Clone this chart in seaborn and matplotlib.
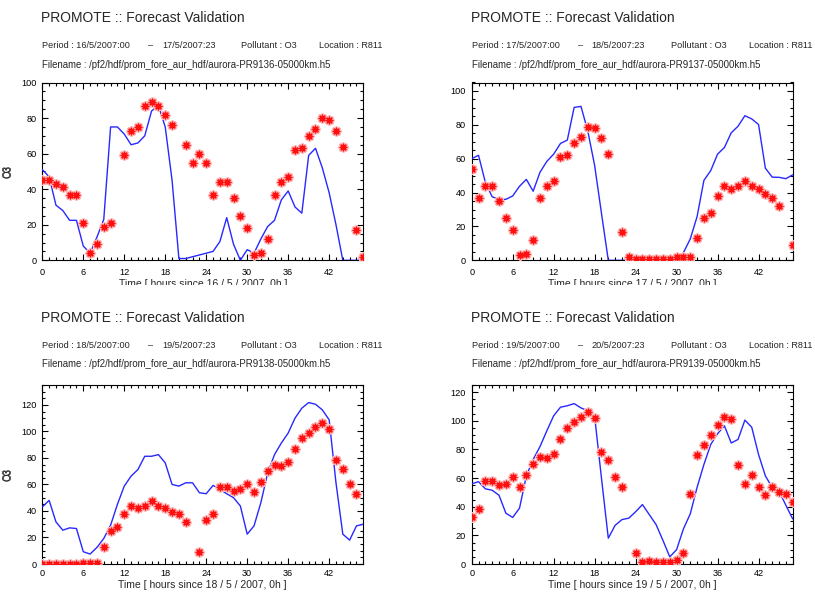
import numpy as np
import pandas as pd
import matplotlib
matplotlib.use("Agg")
import matplotlib.pyplot as plt
import seaborn as sns
from matplotlib.ticker import MultipleLocator
from matplotlib.patches import Rectangle

nan = np.nan
hours = list(range(48))

period_start = ["16/5/2007:00", "17/5/2007:00", "18/5/2007:00", "19/5/2007:00"]
period_end = ["17/5/2007:23", "18/5/2007:23", "19/5/2007:23", "20/5/2007:23"]
base_dates = ["16 / 5 / 2007", "17 / 5 / 2007", "18 / 5 / 2007", "19 / 5 / 2007"]
run_ids = ["PR9136", "PR9137", "PR9138", "PR9139"]
pollutant = "O3"
location = "R811"
y_top = [100, 105, 135, 125]

# observed O3 (asterisks); NaN where no measurement
obs_16 = [45, 45, 43, 41, 37, 37, 21, 4, 9, 19, 21, nan, 59, 73, 75, 87, 89, 87, 82, 76,
          nan, 65, 55, 60, 55, 37, 44, 44, 35, 25, 18, 3, 4, 12, 37, 44, 47, 62, 63, 70,
          74, 80, 79, 73, 64, nan, 17, 2]
obs_17 = [54, 37, 44, 44, 35, 25, 18, 3, 4, 12, 37, 44, 47, 61, 62, 69, 73, 79, 78, 72,
          63, nan, 17, 2, 1, 1, 1, 1, 1, 1, 2, 2, 2, 13, 25, 28, 38, 44, 42, 44,
          47, 44, 42, 39, 37, 32, nan, 9]
obs_18 = [0, 0, 0, 0, 0, 0, 1, 1, 1, 13, 25, 28, 38, 44, 42.5, 44, 47.5, 44, 42.5, 39,
          37.5, 32, nan, 9, 33, 38, 58, 58, 55, 56.5, 60, 54, 62, 70, 75, 74, 77, 87, 95, 99,
          103, 106, 102, 78.5, 72, 60, 53, nan]
obs_19 = [33, 38.5, 58, 58, 55, 56, 60.5, 54, 62, 70, 75, 74, 77, 87, 95, 99, 103, 106, 102, 78.5,
          72.5, 60.5, 53.5, nan, 7.5, 1.5, 2, 1.5, 1.5, 1.5, 2.5, 7.5, 49, 76, 83, 90, 97, 103, 101, 69,
          56, 62, 54, 48, 53.5, 50.5, 49, 43.5]

# forecast O3 (solid line)
fc_16 = [51, 47, 31, 28, 22.5, 22.5, 8, 4, 13, 23, 75, 75, 71, 65, 66, 70, 84, 87, 75, 45,
         1, 1, 2, 3, 4, 5, 10.5, 24, 9, 0, 6, 4, 12, 19, 22.5, 34, 39, 30, 26.5, 59,
         63, 52, 38, 20, 0, 0, 0, 0]
fc_17 = [60, 62, 46, 37.5, 36, 36, 38, 43.7, 47.8, 40.8, 52, 58.4, 62.7, 69, 71, 90.3, 90.9, 76.3, 56, 27.8,
         0, 0, 0, 0, 0, 0, 0, 0, 0, 0, 0, 4.5, 12.6, 25.8, 47.2, 53, 62.7, 66.6, 75.3, 79.2,
         85.4, 83.5, 80.2, 54.4, 49.1, 49, 48.2, 50.5]
fc_18 = [43, 48, 31.75, 25.5, 27.25, 26.75, 9.25, 7.5, 12.5, 19.25, 29.25, 45, 58.75, 66.25, 71.25,
         81.25, 81.25, 82.5, 76.25, 60, 58.75, 61.25, 61.25, 53.75, 53, 59.25, 56.25, 53, 50, 43.75,
         22.5, 28.75, 46.25, 68.75, 82.5, 91.25, 98.75, 110, 117.5, 121.75, 120.5, 116.25, 108.75,
         61.25, 22.5, 18, 28.75, 30]
fc_19 = [56, 57.5, 52.5, 51.5, 48, 35.5, 32.5, 39, 61.5, 73, 82, 93, 103.5, 109.5, 110.5, 112, 109, 107,
         103, 60, 18, 27, 31, 32, 36.5, 41.5, 34.5, 27.5, 16.5, 5, 10, 24.5, 35, 53.5, 69.5, 83.5,
         91, 96.5, 84.5, 87, 100.5, 95.5, 76.5, 61.5, 53.5, 51, 41, 31.5]

observed = [obs_16, obs_17, obs_18, obs_19]
forecast = [fc_16, fc_17, fc_18, fc_19]

sns.set_style("white")
plt.rcParams["font.family"] = ["Liberation Sans", "DejaVu Sans"]

W, H = 815, 592
fig = plt.figure(figsize=(W / 100, H / 100), dpi=100)

# panel frames in pixels: (left, top, right, bottom)
frames = [(42.3, 82.5, 363.3, 260.3), (471.7, 82.5, 792.7, 260.3),
          (42.3, 385.0, 363.3, 564.0), (471.7, 385.0, 792.7, 564.0)]
# header text baselines (title, period, filename)
header_y = [(22.5, 48.5, 67.5), (22.5, 48.5, 67.5), (322.3, 348.3, 367.3), (322.3, 348.3, 367.3)]
# offsets of the pieces of the period line, from the panel's left edge
period_dx = [0, 106, 120, 199, 277]


def fx(px):
    return px / W


def fy(py):
    return 1 - py / H


for i in range(4):
    l, t, r, b = frames[i]
    ax = fig.add_axes([fx(l), fy(b), (r - l) / W, (b - t) / H])
    df = pd.DataFrame({"hour": hours, "obs": observed[i], "fc": forecast[i]})

    sns.lineplot(data=df, x="hour", y="fc", ax=ax, color="#2828ff", linewidth=1.0,
                 zorder=3)
    sns.scatterplot(data=df, x="hour", y="obs", ax=ax, marker=(8, 2, 0), s=30,
                    color="#ffb8b8", linewidth=2.2, zorder=4)
    sns.scatterplot(data=df, x="hour", y="obs", ax=ax, marker=(8, 2, 0), s=22,
                    color="#ff1010", linewidth=1.0, zorder=5)

    ax.set_xlim(0, 47)
    ax.set_ylim(0, y_top[i])
    ax.xaxis.set_major_locator(MultipleLocator(6))
    ax.xaxis.set_minor_locator(MultipleLocator(1))
    ax.yaxis.set_major_locator(MultipleLocator(20))
    ax.yaxis.set_minor_locator(MultipleLocator(5))
    ax.tick_params(which="both", direction="in", top=True, right=True,
                   bottom=True, left=True, colors="black", labelsize=6.6)
    ax.tick_params(which="major", length=4, width=0.8)
    ax.tick_params(which="minor", length=2, width=0.8)
    ax.tick_params(axis="x", pad=5.2 if i < 2 else 3.4)
    ax.tick_params(axis="y", pad=4)
    xt = list(range(0, 43, 6))
    ax.set_xticks(xt)
    ax.set_xticklabels([str(v) for v in xt])
    for sp in ax.spines.values():
        sp.set_linewidth(0.8)
        sp.set_color("black")

    ax.set_xlabel(f"Time [ hours since {base_dates[i]}, 0h ]", fontsize=7.5)
    ax.set_ylabel(pollutant, fontsize=7)
    ax.yaxis.set_label_coords((13 - l) / (r - l), 0.5)
    lab_top = 279.0 if i < 2 else 580.0
    ax.xaxis.set_label_coords(0.5, (b - lab_top) / (b - t))

    ty, py, fny = header_y[i]
    fig.text(fx(l - 1), fy(ty), "PROMOTE :: Forecast Validation", fontsize=10,
             va="baseline", ha="left")
    pieces = [f"Period : {period_start[i]}", "\u2013", period_end[i],
              f"Pollutant : {pollutant}", f"Location : {location}"]
    for dx, txt in zip(period_dx, pieces):
        fig.text(fx(l + dx), fy(py), txt, fontsize=6.6, va="baseline", ha="left")
    fig.text(fx(l), fy(fny),
             f"Filename : /pf2/hdf/prom_fore_aur_hdf/aurora-{run_ids[i]}-05000km.h5",
             fontsize=6.9, va="baseline", ha="left")

# the upper row's axis captions are cut off along their lower half
fig.patches.append(Rectangle((0, fy(300)), 1, (300 - 284.5) / H, transform=fig.transFigure,
                             facecolor="white", edgecolor="none", zorder=20))

fig.savefig("out.png", dpi=100, facecolor="white")
